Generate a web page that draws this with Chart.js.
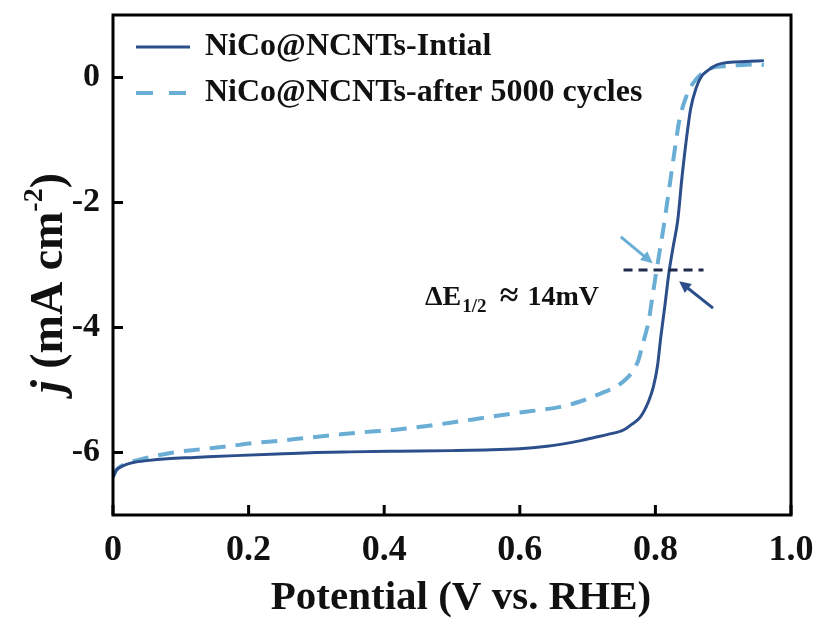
<!DOCTYPE html>
<html>
<head>
<meta charset="utf-8">
<script src="https://cdn.jsdelivr.net/npm/chart.js@4.4.1/dist/chart.umd.min.js"></script>
<style>
  html, body { margin: 0; padding: 0; background: #fff; }
  #wrap { width: 824px; height: 624px; }
</style>
</head>
<body>
<div id="wrap"><canvas id="lsv" width="824" height="624"></canvas></div>
<script>
// LSV data (potential in V vs. RHE, current density in mA cm-2)
const initialV = [0.0, 0.005, 0.01, 0.02, 0.03, 0.05, 0.08, 0.12, 0.18, 0.25, 0.3, 0.35, 0.42, 0.5, 0.55, 0.6, 0.64, 0.66, 0.69, 0.71, 0.73, 0.753, 0.765, 0.778, 0.79, 0.797, 0.803, 0.808, 0.814, 0.82, 0.826, 0.833, 0.839, 0.845, 0.852, 0.86, 0.868, 0.877, 0.89, 0.9, 0.92, 0.94, 0.96];
const initialJ = [-6.4, -6.28, -6.24, -6.19, -6.16, -6.13, -6.1, -6.08, -6.05, -6.02, -6.0, -5.99, -5.98, -5.97, -5.96, -5.94, -5.9, -5.87, -5.81, -5.76, -5.71, -5.64, -5.55, -5.43, -5.18, -4.95, -4.62, -4.15, -3.65, -3.12, -2.72, -2.28, -1.62, -1.05, -0.5, -0.17, 0.02, 0.11, 0.2, 0.23, 0.25, 0.26, 0.27];

const cycledV = [0.0, 0.005, 0.015, 0.03, 0.044, 0.06, 0.089, 0.128, 0.17, 0.207, 0.247, 0.29, 0.335, 0.375, 0.414, 0.46, 0.5, 0.55, 0.6, 0.63, 0.66, 0.69, 0.709, 0.725, 0.742, 0.759, 0.768, 0.775, 0.781, 0.786, 0.79, 0.795, 0.8, 0.806, 0.812, 0.818, 0.824, 0.83, 0.835, 0.845, 0.855, 0.868, 0.882, 0.9, 0.93, 0.955, 0.96];
const cycledJ = [-6.38, -6.28, -6.2, -6.14, -6.1, -6.06, -6.0, -5.95, -5.9, -5.85, -5.81, -5.76, -5.71, -5.67, -5.64, -5.58, -5.52, -5.44, -5.36, -5.32, -5.27, -5.18, -5.1, -5.03, -4.95, -4.8, -4.68, -4.52, -4.28, -4.08, -3.9, -3.55, -3.2, -2.8, -2.4, -1.95, -1.5, -1.05, -0.7, -0.32, -0.1, 0.06, 0.15, 0.18, 0.2, 0.21, 0.2];

const seriesNames = ["NiCo@NCNTs-Intial", "NiCo@NCNTs-after 5000 cycles"];
const xTicks = [0, 0.2, 0.4, 0.6, 0.8, 1.0];
const yTicks = [0, -2, -4, -6];

// half-wave potential marker
const halfWaveJ = -3.08;
const halfWaveSpan = [0.753, 0.871];

const darkBlue = "#2c4f8c";
const lightBlue = "#6aaed6";
const serif = "'Liberation Serif', 'Times New Roman', serif";

function toPoints(xs, ys) {
  return xs.map((x, i) => ({ x: x, y: ys[i] }));
}

// frame, inward ticks, legend, axis titles and the ΔE1/2 annotation
const decorPlugin = {
  id: "decor",
  afterDatasetsDraw(chart) {
    const { ctx, scales } = chart;
    const xs = scales.x, ys = scales.y;
    ctx.save();

    // dashed horizontal line at the half-wave current
    ctx.strokeStyle = "#1f2a4a";
    ctx.lineWidth = 3;
    ctx.setLineDash([9, 6]);
    ctx.beginPath();
    ctx.moveTo(xs.getPixelForValue(halfWaveSpan[0]), ys.getPixelForValue(halfWaveJ));
    ctx.lineTo(xs.getPixelForValue(halfWaveSpan[1]), ys.getPixelForValue(halfWaveJ));
    ctx.stroke();
    ctx.setLineDash([]);

    function arrow(x0, y0, x1, y1, color) {
      const px0 = xs.getPixelForValue(x0), py0 = ys.getPixelForValue(y0);
      const px1 = xs.getPixelForValue(x1), py1 = ys.getPixelForValue(y1);
      const a = Math.atan2(py1 - py0, px1 - px0);
      const h = 13;
      ctx.strokeStyle = color;
      ctx.fillStyle = color;
      ctx.lineWidth = 3;
      ctx.beginPath();
      ctx.moveTo(px0, py0);
      ctx.lineTo(px1 - Math.cos(a) * 6, py1 - Math.sin(a) * 6);
      ctx.stroke();
      ctx.beginPath();
      ctx.moveTo(px1, py1);
      ctx.lineTo(px1 - h * Math.cos(a - 0.45), py1 - h * Math.sin(a - 0.45));
      ctx.lineTo(px1 - h * Math.cos(a + 0.45), py1 - h * Math.sin(a + 0.45));
      ctx.closePath();
      ctx.fill();
    }
    arrow(0.749, -2.55, 0.796, -2.97, lightBlue);
    arrow(0.885, -3.69, 0.835, -3.26, darkBlue);

    // ΔE1/2 ≈ 14mV
    ctx.fillStyle = "#111";
    ctx.textBaseline = "alphabetic";
    ctx.textAlign = "left";
    ctx.font = "bold 28px " + serif;
    ctx.fillText("ΔE", 425, 305);
    const wDE = ctx.measureText("ΔE").width;
    ctx.font = "bold 19px " + serif;
    ctx.fillText("1/2", 426 + wDE, 312);
    ctx.font = "bold 34px " + serif;
    ctx.textAlign = "center";
    ctx.fillText("≈", 509, 306);
    ctx.font = "bold 28px " + serif;
    ctx.textAlign = "right";
    ctx.fillText("14mV", 599, 305);

    ctx.restore();
  },
  afterDraw(chart) {
    const { ctx, chartArea, scales } = chart;
    const { left, right, top, bottom } = chartArea;
    ctx.save();

    // frame
    ctx.strokeStyle = "#000";
    ctx.lineWidth = 3;
    ctx.strokeRect(left, top, right - left, bottom - top);

    // inward tick marks
    scales.y.ticks.forEach((t) => {
      const py = scales.y.getPixelForValue(t.value);
      ctx.beginPath();
      ctx.moveTo(left, py);
      ctx.lineTo(left + 10, py);
      ctx.stroke();
    });
    scales.x.ticks.forEach((t) => {
      const px = scales.x.getPixelForValue(t.value);
      ctx.beginPath();
      ctx.moveTo(px, bottom);
      ctx.lineTo(px, bottom - 10);
      ctx.stroke();
    });

    // legend
    const rows = [47, 93];
    ctx.lineWidth = 3;
    ctx.strokeStyle = darkBlue;
    ctx.beginPath();
    ctx.moveTo(136, rows[0]);
    ctx.lineTo(190, rows[0]);
    ctx.stroke();
    ctx.lineWidth = 4;
    ctx.strokeStyle = lightBlue;
    ctx.setLineDash([17, 16]);
    ctx.beginPath();
    ctx.moveTo(136, rows[1]);
    ctx.lineTo(189, rows[1]);
    ctx.stroke();
    ctx.setLineDash([]);
    ctx.fillStyle = "#111";
    ctx.font = "bold 32px " + serif;
    ctx.textAlign = "left";
    ctx.textBaseline = "middle";
    ctx.fillText(seriesNames[0], 205, rows[0]);
    ctx.fillText(seriesNames[1], 205, rows[1]);

    // x title
    ctx.font = "bold 41px " + serif;
    ctx.textAlign = "center";
    ctx.fillText("Potential (V vs. RHE)", 461, 598);

    // y title: j (mA cm-2), rotated
    ctx.translate(50, 283);
    ctx.rotate(-Math.PI / 2);
    const parts = [
      { t: "j", f: "italic bold 46px " + serif, dy: 0 },
      { t: " (mA cm", f: "bold 46px " + serif, dy: 0 },
      { t: "-2", f: "bold 28px " + serif, dy: -15 },
      { t: ")", f: "bold 46px " + serif, dy: 0 },
    ];
    let total = 0;
    parts.forEach((p) => {
      ctx.font = p.f;
      p.w = ctx.measureText(p.t).width;
      total += p.w;
    });
    let cx = -total / 2;
    ctx.textAlign = "left";
    parts.forEach((p) => {
      ctx.font = p.f;
      ctx.fillText(p.t, cx, p.dy);
      cx += p.w;
    });

    ctx.restore();
  },
};

document.addEventListener("DOMContentLoaded", () => {
  const ctx = document.getElementById("lsv").getContext("2d");
  new Chart(ctx, {
    type: "line",
    data: {
      datasets: [
        {
          label: seriesNames[0],
          data: toPoints(initialV, initialJ),
          borderColor: darkBlue,
          borderWidth: 3,
          pointRadius: 0,
          cubicInterpolationMode: "monotone",
          fill: false,
        },
        {
          label: seriesNames[1],
          data: toPoints(cycledV, cycledJ),
          borderColor: lightBlue,
          borderWidth: 4,
          borderDash: [16, 10],
          pointRadius: 0,
          cubicInterpolationMode: "monotone",
          fill: false,
        },
      ],
    },
    options: {
      responsive: false,
      animation: false,
      layout: { padding: { top: 15, right: 33, left: 0, bottom: 0 } },
      plugins: {
        legend: { display: false },
        tooltip: { enabled: false },
      },
      scales: {
        x: {
          type: "linear",
          min: 0,
          max: 1.0,
          grid: { display: false, drawTicks: false },
          border: { display: false },
          afterBuildTicks: (scale) => {
            scale.ticks = xTicks.map((v) => ({ value: v }));
          },
          afterFit: (scale) => {
            scale.height = 109;
            scale.paddingLeft = 0;
            scale.paddingRight = 0;
          },
          ticks: {
            padding: 14,
            maxRotation: 0,
            color: "#111",
            font: { family: serif, size: 36, weight: "bold" },
            callback: (v) => (v === 0 ? "0" : v.toFixed(1)),
          },
        },
        y: {
          min: -7,
          max: 1,
          grid: { display: false, drawTicks: false },
          border: { display: false },
          afterBuildTicks: (scale) => {
            scale.ticks = yTicks.map((v) => ({ value: v }));
          },
          afterFit: (scale) => {
            scale.width = 113;
            scale.paddingTop = 0;
            scale.paddingBottom = 0;
          },
          ticks: {
            padding: 13,
            color: "#111",
            font: { family: serif, size: 34, weight: "bold" },
            callback: (v) => String(v),
          },
        },
      },
    },
    plugins: [decorPlugin],
  });
});
</script>
</body>
</html>
